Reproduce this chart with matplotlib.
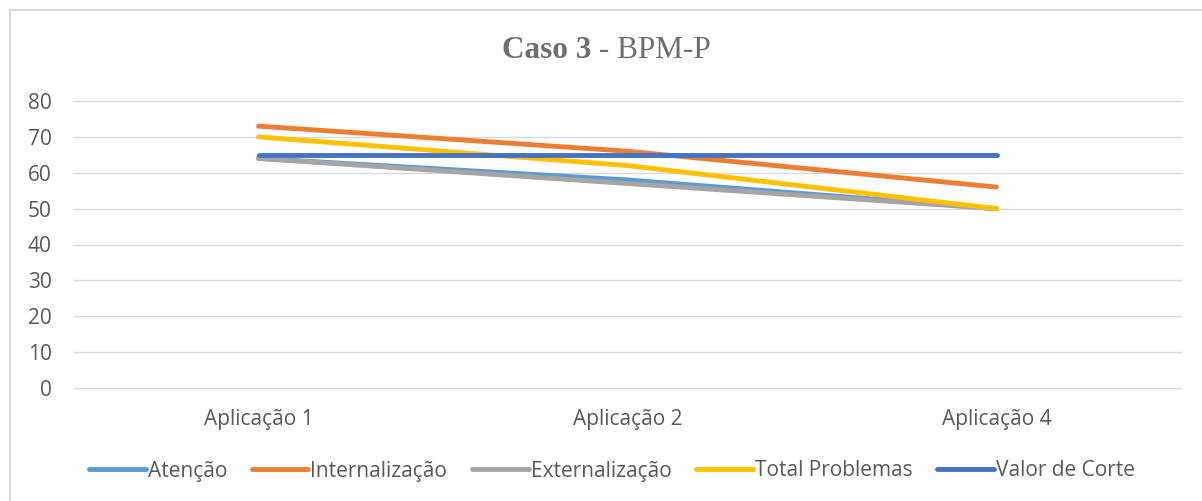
import matplotlib
matplotlib.use("Agg")
import matplotlib.pyplot as plt
from matplotlib.lines import Line2D

categories = ["Aplicação 1", "Aplicação 2", "Aplicação 4"]
atencao = [64, 58, 50]
internalizacao = [73, 66, 56]
externalizacao = [64, 57, 50]
total_problemas = [70, 62, 50]
valor_corte = [65, 65, 65]

series_names = ["Atenção", "Internalização", "Externalização", "Total Problemas", "Valor de Corte"]
series_values = [atencao, internalizacao, externalizacao, total_problemas, valor_corte]
colors = ["#5B9BD5", "#ED7D31", "#A5A5A5", "#FFC000", "#4472C4"]

W, H = 1202, 501
fig = plt.figure(figsize=(W / 100, H / 100), dpi=100)
fig.patch.set_facecolor("white")

# outer chart frame (left and top edges visible)
fig.add_artist(Line2D([10 / W, 10 / W], [0, 1 - 10 / H], transform=fig.transFigure, color="#D9D9D9", lw=1.5))
fig.add_artist(Line2D([10 / W, 1], [1 - 10 / H, 1 - 10 / H], transform=fig.transFigure, color="#D9D9D9", lw=1.5))

left, right = 74, 1181
top, bottom = 101, 388
ax = fig.add_axes([left / W, 1 - bottom / H, (right - left) / W, (bottom - top) / H])

x = list(range(len(categories)))
for name, vals, c in zip(series_names, series_values, colors):
    ax.plot(x, vals, color=c, lw=3.5, solid_capstyle="round", label=name)

ax.set_xlim(-0.5, len(categories) - 0.5)
ax.set_ylim(0, 80)
ax.set_yticks(range(0, 81, 10))
ax.set_xticks(x)
ax.set_xticklabels(categories)
ax.grid(axis="y", color="#D9D9D9", lw=1)
for gl in ax.get_ygridlines():
    gl.set_clip_on(False)
ax.set_axisbelow(True)
for s in ax.spines.values():
    s.set_visible(False)
ax.tick_params(axis="both", length=0, labelsize=15, labelcolor="#595959")
ax.tick_params(axis="y", pad=16)
ax.tick_params(axis="x", pad=15)
for lab in ax.get_xticklabels() + ax.get_yticklabels():
    lab.set_fontfamily("Open Sans")

# title
fig.text(591 / W, 1 - 51 / H, "Caso 3", fontfamily="Liberation Serif", fontweight="bold",
         fontsize=22.5, color="#6E6E6E", ha="right", va="center")
fig.text(591 / W, 1 - 51 / H, " - BPM-P", fontfamily="Liberation Serif",
         fontsize=22.5, color="#6E6E6E", ha="left", va="center")

handles = [Line2D([0], [0], color=c, lw=3.5, solid_capstyle="round") for c in colors]
leg = fig.legend(handles, series_names, loc="center", bbox_to_anchor=(612 / W, 1 - 471 / H),
                 ncol=5, frameon=False, handlelength=2.7, handletextpad=0.1, columnspacing=1.2,
                 prop={"family": "Open Sans", "size": 15})
for t in leg.get_texts():
    t.set_color("#595959")

fig.savefig("out.png", dpi=100, facecolor="white")
